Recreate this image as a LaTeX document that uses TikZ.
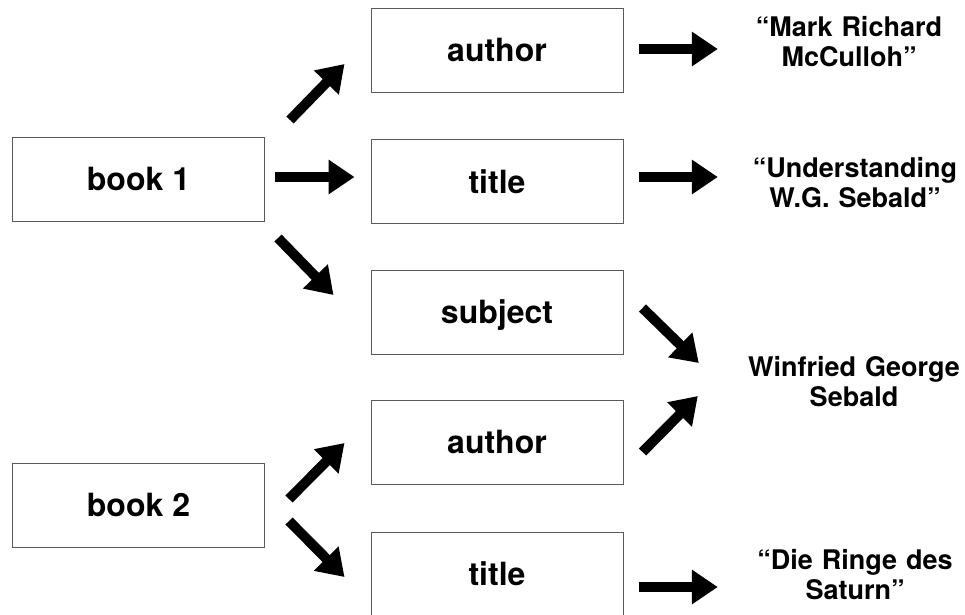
\documentclass[tikz,border=0pt]{standalone}
\usepackage{fontspec}
\setmainfont{TeX Gyre Heros}
\usetikzlibrary{arrows.meta}
\begin{document}
\begin{tikzpicture}[x=1pt, y=-1pt,
  box/.style={draw=black!65, line width=1pt, minimum width=252pt, minimum height=84pt, inner sep=0pt, text height=23pt, text depth=0pt, font=\fontsize{32}{38}\selectfont\bfseries},
  val/.style={text width=220pt, align=center, inner sep=0pt, font=\fontsize{27}{30}\selectfont\bfseries},
  fat/.style={line width=10pt, -{Triangle[length=26pt, width=33pt]}}]
\useasboundingbox (0,0) rectangle (965,614);
\node[box] (book1) at (138.5,179) {book 1};
\node[box] (book2) at (138.5,505) {book 2};
\node[box] (author1) at (497,50) {author};
\node[box] (title1) at (497,181.5) {title};
\node[box] (subject1) at (497,312) {subject};
\node[box] (author2) at (497,442) {author};
\node[box] (title2) at (497,574) {title};
\node[val] (mark) at (849,42) {“Mark Richard\\McCulloh”};
\node[val] (understanding) at (855,183) {“Understanding\\W.G. Sebald”};
\node[val] (sebald) at (854,382) {Winfried George\\Sebald};
\node[val] (ringe) at (855,575) {“Die Ringe des\\Saturn”};
% book 1
\draw[fat] ([shift={(25,-59)}]book1.east) -- ([shift={(-26,14)}]author1.west);
\draw[fat] ([shift={(10,-2)}]book1.east) -- ([shift={(-16,-4.5)}]title1.west);
\draw[fat] ([shift={(13,59)}]book1.east) -- ([shift={(-37,-17)}]subject1.west);
% book 2
\draw[fat] ([shift={(24,-6)}]book2.east) -- ([shift={(-26,1)}]author2.west);
\draw[fat] ([shift={(24,16)}]book2.east) -- ([shift={(-26,3)}]title2.west);
% values
\draw[fat] ([shift={(15,-1)}]author1.east) -- ([shift={(-21,7)}]mark.west);
\draw[fat] ([shift={(15,-4.5)}]title1.east) -- ([shift={(-27,-6)}]understanding.west);
\draw[fat] ([shift={(19,-4)}]subject1.east) -- ([shift={(-45,-19)}]sebald.west);
\draw[fat] ([shift={(19,10)}]author2.east) -- ([shift={(-46,14)}]sebald.west);
\draw[fat] ([shift={(15,13)}]title2.east) -- ([shift={(-27,12)}]ringe.west);
\end{tikzpicture}
\end{document}
